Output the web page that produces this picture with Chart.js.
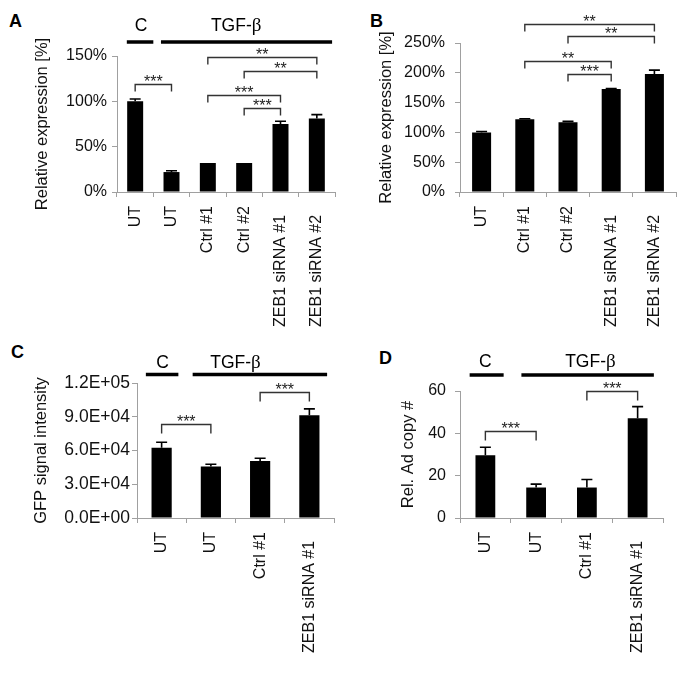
<!DOCTYPE html>
<html>
<head>
<meta charset="utf-8">
<script src="https://cdn.jsdelivr.net/npm/chart.js@4.4.0/dist/chart.umd.min.js"></script>
<style>
    body { margin: 0; background: #fff; width: 685px; height: 676px; position: relative; overflow: hidden;
           font-family: "Liberation Sans", Arial, sans-serif; }
    canvas { position: absolute; }
    .tag { position: absolute; font-weight: bold; font-size: 18px; line-height: 1; color: #000; }
</style>
</head>
<body>
<div class="tag" style="left:9px;top:12px">A</div>
<div class="tag" style="left:370px;top:12px">B</div>
<div class="tag" style="left:11px;top:343px">C</div>
<div class="tag" style="left:379px;top:349px">D</div>

<canvas id="chartA" width="342" height="335" style="left:0;top:0"></canvas>
<canvas id="chartB" width="343" height="335" style="left:342px;top:0"></canvas>
<canvas id="chartC" width="342" height="341" style="left:0;top:335px"></canvas>
<canvas id="chartD" width="343" height="341" style="left:342px;top:335px"></canvas>

<script>
// ---- data ----
const catsA = ['UT', 'UT', 'Ctrl #1', 'Ctrl #2', 'ZEB1 siRNA #1', 'ZEB1 siRNA #2'];
const valsA = [100, 22, 32, 32, 75, 81];
const errA = [2.5, 1.5, 0, 0, 3, 4.3];
const ticksA = ['0%', '50%', '100%', '150%'];
const sigA = [[0, 1, 119, '***'], [2, 5, 148.6, '**'], [3, 5, 133, '**'], [2, 4, 107.4, '***'], [3, 4, 92.7, '***']];

const catsB = ['UT', 'Ctrl #1', 'Ctrl #2', 'ZEB1 siRNA #1', 'ZEB1 siRNA #2'];
const valsB = [100, 122, 117, 173, 198];
const errB = [1.5, 1, 1.5, 0.5, 6.5];
const ticksB = ['0%', '50%', '100%', '150%', '200%', '250%'];
const sigB = [[1, 4, 282, '**'], [2, 4, 262, '**'], [1, 3, 220, '**'], [2, 3, 198, '***']];

const catsC = ['UT', 'UT', 'Ctrl #1', 'ZEB1 siRNA #1'];
const valsC = [62500, 45700, 50700, 91400];
const errC = [4800, 2100, 2400, 5600];
const ticksC = ['0.0E+00', '3.0E+04', '6.0E+04', '9.0E+04', '1.2E+05'];
const sigC = [[0, 1, 84000, '***'], [2, 3, 112000, '***']];

const catsD = ['UT', 'UT', 'Ctrl #1', 'ZEB1 siRNA #1'];
const valsD = [29.7, 14.4, 14.4, 47.1];
const errD = [3.7, 1.6, 3.8, 5.5];
const ticksD = ['0', '20', '40', '60'];
const sigD = [[0, 1, 41, '***'], [2, 3, 60.2, '***']];

const groupNames = [['C', ''], ['TGF-', 'β']];

const FONT = '"Liberation Sans", Arial, sans-serif';
const SERIF = '"Liberation Serif", "DejaVu Serif", serif';
const AXIS_GRAY = '#a0a0a0';

// error bars, significance brackets and treatment headers
function overlay(cfg) {
    return {
        id: 'overlay',
        afterDraw(chart) {
            const { ctx, chartArea } = chart;
            const x = chart.scales.x, y = chart.scales.y;
            ctx.save();

            // error bars (upper half only, bar hides the rest)
            ctx.strokeStyle = '#000';
            ctx.lineWidth = 1.6;
            cfg.values.forEach((v, i) => {
                const e = cfg.errors[i];
                if (!e) return;
                const px = x.getPixelForValue(i);
                const y0 = y.getPixelForValue(v);
                const y1 = y.getPixelForValue(v + e);
                ctx.beginPath();
                ctx.moveTo(px, y0);
                ctx.lineTo(px, y1);
                ctx.moveTo(px - 5.5, y1);
                ctx.lineTo(px + 5.5, y1);
                ctx.stroke();
            });

            // brackets
            ctx.strokeStyle = '#333';
            ctx.lineWidth = 1.4;
            ctx.fillStyle = '#222';
            ctx.font = '16px ' + FONT;
            ctx.textAlign = 'center';
            ctx.textBaseline = 'alphabetic';
            cfg.brackets.forEach(([a, b, level, label]) => {
                const xa = x.getPixelForValue(a), xb = x.getPixelForValue(b);
                const py = Math.round(y.getPixelForValue(level)) + 0.5;
                ctx.beginPath();
                ctx.moveTo(xa, py + cfg.drop);
                ctx.lineTo(xa, py);
                ctx.lineTo(xb, py);
                ctx.lineTo(xb, py + cfg.drop);
                ctx.stroke();
                ctx.fillText(label, (xa + xb) / 2, py + 2.5);
            });

            // treatment headers (greek letter in a serif face, like the original)
            if (cfg.headers) {
                ctx.fillStyle = '#000';
                ctx.strokeStyle = '#000';
                ctx.lineWidth = 3.5;
                ctx.textBaseline = 'alphabetic';
                ctx.textAlign = 'left';
                const lineY = chartArea.top - cfg.headerLine;
                const baseY = chartArea.top - cfg.headerText + 6.3;
                cfg.headers.forEach((h, k) => {
                    ctx.beginPath();
                    ctx.moveTo(x.getPixelForValue(h.from), lineY);
                    ctx.lineTo(x.getPixelForValue(h.to), lineY);
                    ctx.stroke();
                    const [main, greek] = groupNames[k];
                    const sansFont = '17.5px ' + FONT, serifFont = '19px ' + SERIF;
                    ctx.font = sansFont;
                    const w1 = ctx.measureText(main).width;
                    ctx.font = serifFont;
                    const w2 = greek ? ctx.measureText(greek).width : 0;
                    const x0 = x.getPixelForValue(h.at) - (w1 + w2) / 2;
                    ctx.font = sansFont;
                    ctx.fillText(main, x0, baseY);
                    if (greek) {
                        ctx.font = serifFont;
                        ctx.fillText(greek, x0 + w1, baseY);
                    }
                });
            }
            ctx.restore();
        }
    };
}

function makeChart(id, cfg) {
    return new Chart(document.getElementById(id), {
        type: 'bar',
        data: {
            labels: cfg.labels,
            datasets: [{
                data: cfg.values,
                backgroundColor: '#000',
                borderWidth: 0,
                barPercentage: cfg.barPct,
                categoryPercentage: 1
            }]
        },
        options: {
            responsive: false,
            animation: false,
            events: [],
            layout: { padding: cfg.padding },
            plugins: {
                legend: { display: false },
                tooltip: { enabled: false }
            },
            scales: {
                x: {
                    grid: { offset: true, drawOnChartArea: false, tickLength: 5, color: AXIS_GRAY },
                    border: { color: AXIS_GRAY, width: 1 },
                    ticks: {
                        minRotation: 90, maxRotation: 90, autoSkip: false,
                        padding: cfg.xPad, color: '#111',
                        font: { size: 16, family: FONT },
                        // the long siRNA labels sit a little lower in the original
                        callback: (v, i) => cfg.labels[i].length > 8 ? cfg.labels[i] + '  ' : cfg.labels[i]
                    },
                    afterFit: s => { s.height = cfg.xHeight; s.paddingLeft = 0; s.paddingRight = 0; }
                },
                y: {
                    min: 0,
                    max: cfg.max,
                    grid: { drawOnChartArea: false, tickLength: 5, color: AXIS_GRAY },
                    border: { color: AXIS_GRAY, width: 1 },
                    ticks: {
                        stepSize: cfg.step,
                        padding: cfg.yPad,
                        color: '#111',
                        font: { size: cfg.yFont, family: FONT },
                        callback: (v, i) => cfg.tickLabels[i]
                    },
                    title: {
                        display: true,
                        text: cfg.title,
                        color: '#111',
                        font: { size: 16.5, family: FONT },
                        padding: { top: cfg.titlePad, bottom: 0 }
                    },
                    afterFit: s => { s.width = cfg.yWidth; s.paddingTop = 0; s.paddingBottom = 0; }
                }
            }
        },
        plugins: [overlay(cfg)]
    });
}

makeChart('chartA', {
    labels: catsA, values: valsA, errors: errA, brackets: sigA, tickLabels: ticksA,
    max: 150, step: 50, title: 'Relative expression [%]',
    barPct: 0.44, padding: { top: 56, right: 7, left: 0, bottom: 0 },
    yWidth: 117, xHeight: 143, yPad: 5, xPad: 9, yFont: 16, titlePad: 33, drop: 7,
    headers: [{ from: -0.23, to: 0.5, at: 0.16 }, { from: 0.71, to: 5.42, at: 2.78 }],
    headerLine: 14, headerText: 31
});

makeChart('chartB', {
    labels: catsB, values: valsB, errors: errB, brackets: sigB, tickLabels: ticksB,
    max: 250, step: 50, title: 'Relative expression [%]',
    barPct: 0.44, padding: { top: 43, right: 9, left: 0, bottom: 0 },
    yWidth: 118, xHeight: 143, yPad: 10, xPad: 9, yFont: 16, titlePad: 34.7, drop: 7
});

makeChart('chartC', {
    labels: catsC, values: valsC, errors: errC, brackets: sigC, tickLabels: ticksC,
    max: 120000, step: 30000, title: 'GFP signal intensity',
    barPct: 0.41, padding: { top: 48, right: 8, left: 0, bottom: 0 },
    yWidth: 137, xHeight: 158, yPad: 2, xPad: 9, yFont: 17.5, titlePad: 31.7, drop: 9,
    headers: [{ from: -0.32, to: 0.34, at: 0.02 }, { from: 0.63, to: 3.36, at: 1.5 }],
    headerLine: 8.4, headerText: 21
});

makeChart('chartD', {
    labels: catsD, values: valsD, errors: errD, brackets: sigD, tickLabels: ticksD,
    max: 60, step: 20, title: 'Rel. Ad copy #',
    barPct: 0.39, padding: { top: 56, right: 22, left: 0, bottom: 0 },
    yWidth: 118, xHeight: 158, yPad: 9, xPad: 9, yFont: 16, titlePad: 56.4, drop: 9,
    headers: [{ from: -0.31, to: 0.36, at: 0.0 }, { from: 0.71, to: 3.32, at: 2.07 }],
    headerLine: 16, headerText: 30.5
});
</script>
</body>
</html>
